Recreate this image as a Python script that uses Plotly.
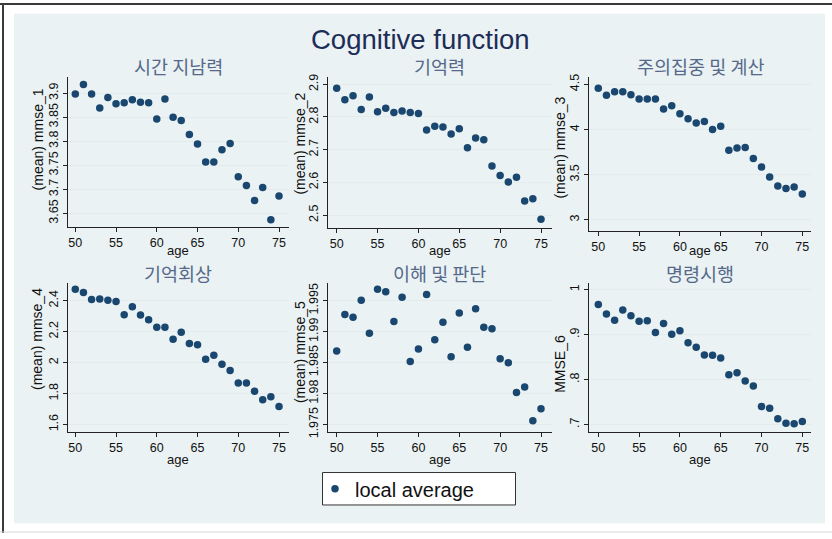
import plotly.graph_objects as go

# ---- data: local averages of MMSE sub-scores by age ----
age = list(range(50, 76))

mmse_1 = [3.898, 3.918, 3.898, 3.869, 3.891, 3.878, 3.880, 3.886, 3.881, 3.880,
          3.846, 3.888, 3.850, 3.843, 3.814, 3.794, 3.757, 3.757, 3.782, 3.795,
          3.726, 3.708, 3.677, 3.704, 3.637, 3.686]
mmse_2 = [2.888, 2.853, 2.865, 2.823, 2.861, 2.816, 2.827, 2.814, 2.818, 2.814,
          2.811, 2.760, 2.772, 2.769, 2.748, 2.764, 2.706, 2.736, 2.730, 2.650,
          2.621, 2.601, 2.616, 2.543, 2.550, 2.487]
mmse_3 = [4.457, 4.380, 4.417, 4.417, 4.384, 4.337, 4.337, 4.337, 4.228, 4.264,
          4.174, 4.120, 4.072, 4.090, 4.000, 4.036, 3.772, 3.797, 3.801, 3.681,
          3.587, 3.475, 3.377, 3.348, 3.366, 3.286]
mmse_4 = [2.474, 2.453, 2.408, 2.411, 2.402, 2.394, 2.309, 2.360, 2.307, 2.277,
          2.228, 2.228, 2.151, 2.196, 2.124, 2.116, 2.021, 2.047, 1.989, 1.949,
          1.868, 1.868, 1.815, 1.760, 1.779, 1.716]
mmse_5 = [1.98688, 1.99275, 1.99233, 1.99505, 1.98974, 1.99685, 1.99643, 1.99164,
          1.99556, 1.98519, 1.98720, 1.99598, 1.98868, 1.99153, 1.98593, 1.99302,
          1.98746, 1.99370, 1.99069, 1.99048, 1.98561, 1.98497, 1.98016, 1.98106,
          1.97563, 1.97754]
mmse_6 = [0.967, 0.946, 0.932, 0.955, 0.942, 0.930, 0.931, 0.905, 0.925, 0.901,
          0.909, 0.882, 0.872, 0.855, 0.854, 0.848, 0.811, 0.815, 0.797, 0.786,
          0.740, 0.736, 0.713, 0.703, 0.702, 0.707]

panel_titles = ["시간 지남력", "기억력", "주의집중 및 계산", "기억회상", "이해 및 판단", "명령시행"]
y_titles = ["(mean) mmse_1", "(mean) mmse_2", "(mean) mmse_3",
            "(mean) mmse_4", "(mean) mmse_5", "MMSE_6"]
series = [mmse_1, mmse_2, mmse_3, mmse_4, mmse_5, mmse_6]

x_ticks = [50, 55, 60, 65, 70, 75]
y_tickvals = [
    [3.65, 3.7, 3.75, 3.8, 3.85, 3.9],
    [2.5, 2.6, 2.7, 2.8, 2.9],
    [3, 3.5, 4, 4.5],
    [1.6, 1.8, 2, 2.2, 2.4],
    [1.975, 1.98, 1.985, 1.99, 1.995],
    [0.7, 0.8, 0.9, 1.0],
]
y_ticktext = [
    ["3.65", "3.7", "3.75", "3.8", "3.85", "3.9"],
    ["2.5", "2.6", "2.7", "2.8", "2.9"],
    ["3", "3.5", "4", "4.5"],
    ["1.6", "1.8", "2", "2.2", "2.4"],
    ["1.975", "1.98", "1.985", "1.99", "1.995"],
    [".7", ".8", ".9", "1"],
]

# ---- page geometry (pixels) ----
W, H = 832, 539
# left, right, top, bottom of each plot region
regions = [
    (67.7, 288.5, 75.0, 227.3),
    (328.3, 551.5, 75.0, 229.0),
    (589.3, 811.0, 75.0, 231.7),
    (67.7, 288.5, 284.3, 436.0),
    (328.3, 551.5, 284.3, 436.7),
    (589.3, 811.0, 284.3, 436.7),
]
x_ranges = [(49.067, 76.166), (48.972, 76.285), (48.897, 76.066)] * 2
y_ranges = [(3.6227, 3.934), (2.46, 2.923), (2.880, 4.584),
            (1.5536, 2.517), (1.97373, 1.99792), (0.6825, 1.016)]
# centres of the rotated y-axis titles (x, y)
ytitle_pos = [(37.7, 139), (300, 143), (560, 147),
              (37.7, 342), (300, 355), (560, 367)]
# vertical centres of the row titles and of the "age" labels
row_title_y = [64, 275]
age_label_y = [252, 464]

FONT = "Liberation Sans, Arial, sans-serif"
KFONT = "Noto Sans CJK KR, sans-serif"
NAVY = "#1A476F"
GRID = "#E3EBED"
BG = "#EAF2F3"


def fx(p):
    return p / W


def fy(p):
    return 1 - p / H


fig = go.Figure()
layout = {}
annotations = []

for i in range(6):
    n = "" if i == 0 else str(i + 1)
    row = i // 3
    left, right, top, bottom = regions[i]
    fig.add_trace(go.Scatter(
        x=age, y=series[i], mode="markers",
        marker=dict(color=NAVY, size=7.5, line=dict(width=0)),
        name="local average", showlegend=(i == 0),
        xaxis="x" + n, yaxis="y" + n,
    ))
    layout["xaxis" + n] = dict(
        domain=[fx(left), fx(right)], range=list(x_ranges[i]), anchor="y" + n,
        tickvals=x_ticks, ticks="outside", ticklen=4, tickcolor="#222",
        showline=True, linecolor="#222", linewidth=1, showgrid=False,
        zeroline=False, tickfont=dict(family=FONT, size=12.5, color="#111"),
    )
    layout["yaxis" + n] = dict(
        domain=[fy(bottom), fy(top)], range=list(y_ranges[i]), anchor="x" + n,
        tickvals=y_tickvals[i], ticktext=y_ticktext[i], tickangle=-90,
        ticks="outside", ticklen=4, tickcolor="#222",
        showline=True, linecolor="#222", linewidth=1,
        showgrid=True, gridcolor=GRID, gridwidth=1.2, zeroline=False,
        tickfont=dict(family=FONT, size=12.5, color="#111"),
    )
    cx = (left + right) / 2
    # panel title
    annotations.append(dict(
        text=panel_titles[i], x=fx(cx), y=fy(row_title_y[row]),
        xref="paper", yref="paper",
        xanchor="center", yanchor="middle", showarrow=False,
        font=dict(family=KFONT, size=18.5, color="#56698A"),
    ))
    # x-axis title
    annotations.append(dict(
        text="age", x=fx(cx), y=fy(age_label_y[row]), xref="paper", yref="paper",
        xanchor="center", yanchor="middle", showarrow=False,
        font=dict(family=FONT, size=13, color="#111"),
    ))
    # y-axis title
    tx, ty = ytitle_pos[i]
    annotations.append(dict(
        text=y_titles[i], x=fx(tx), y=fy(ty), xref="paper", yref="paper",
        xanchor="center", yanchor="middle", textangle=-90, showarrow=False,
        font=dict(family=FONT, size=14, color="#111"),
    ))

annotations.append(dict(
    text="Cognitive function", x=fx(420), y=fy(37), xref="paper", yref="paper",
    xanchor="center", yanchor="middle", showarrow=False,
    font=dict(family=FONT, size=27.5, color="#1E2D57"),
))

shapes = [
    # graph background
    dict(type="rect", xref="paper", yref="paper", x0=fx(14), x1=fx(825),
         y0=fy(529), y1=fy(11), fillcolor=BG, line=dict(width=0), layer="below"),
    # legend box
    dict(type="rect", xref="paper", yref="paper", x0=fx(322.5), x1=fx(515.5),
         y0=fy(510.5), y1=fy(477.5), fillcolor="white",
         line=dict(color="#333", width=1), layer="below"),
    # outer frame
    dict(type="line", xref="paper", yref="paper", x0=fx(0), x1=fx(832),
         y0=fy(1), y1=fy(1), line=dict(color="#3A3A3A", width=2)),
    dict(type="line", xref="paper", yref="paper", x0=fx(3), x1=fx(3),
         y0=fy(0), y1=fy(539), line=dict(color="#3A3A3A", width=2)),
    dict(type="line", xref="paper", yref="paper", x0=fx(0), x1=fx(832),
         y0=fy(538), y1=fy(538), line=dict(color="#D8D8D8", width=1)),
]

fig.update_layout(
    width=W, height=H, margin=dict(l=0, r=0, t=0, b=0),
    paper_bgcolor="white", plot_bgcolor="white",
    annotations=annotations, shapes=shapes,
    legend=dict(x=fx(315), y=fy(494), xanchor="left", yanchor="middle",
                bgcolor="rgba(0,0,0,0)", borderwidth=0,
                font=dict(family=FONT, size=20, color="#111")),
    **layout,
)

fig.write_html("out.html")
